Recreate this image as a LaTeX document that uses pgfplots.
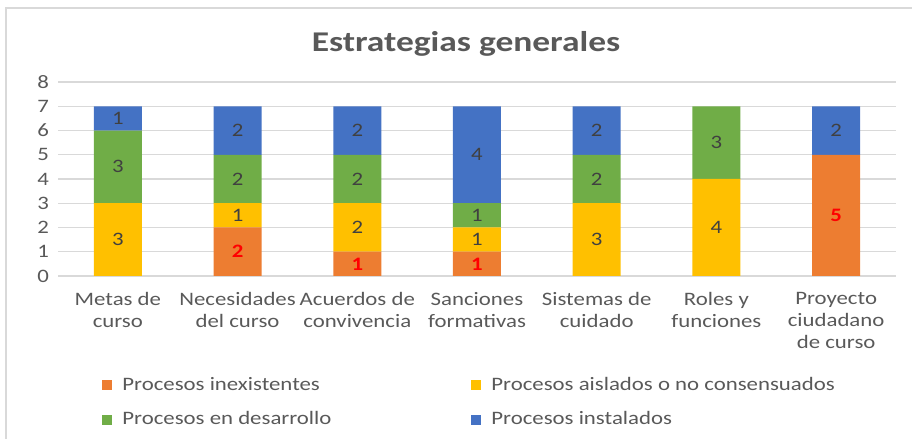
\documentclass[border=0pt]{standalone}
\usepackage{pgfplots}
\pgfplotsset{compat=1.18}
\usepackage{fontspec}
\setmainfont[FakeStretch=1.2]{Carlito}
\newfontfamily\titlefont[FakeStretch=1.24]{Carlito}
\definecolor{cInex}{HTML}{ED7D31}
\definecolor{cAis}{HTML}{FFC000}
\definecolor{cDes}{HTML}{70AD47}
\definecolor{cIns}{HTML}{4472C4}
\definecolor{gridc}{HTML}{D9D9D9}
\definecolor{textc}{HTML}{595959}
\definecolor{labc}{HTML}{404040}
\begin{document}
\begin{tikzpicture}
\useasboundingbox (0,0) rectangle (456pt,219.5pt);
\draw[color=gridc, line width=0.9pt] (3pt,-5pt) rectangle (470pt,215.5pt);
\node[font=\titlefont\fontsize{14.3}{16}\selectfont\bfseries, text=textc] at (233pt,197.5pt) {Estrategias generales};
\begin{axis}[
  at={(29pt,81.5pt)}, anchor=south west,
  scale only axis, width=419pt, height=97pt,
  ybar stacked, bar width=24pt,
  xmin=-0.5, xmax=6.5, ymin=0, ymax=8,
  ytick={0,...,8}, xtick={0,...,6},
  xticklabels={{Metas de\\curso},{Necesidades\\del curso},{Acuerdos de\\convivencia},{Sanciones\\formativas},{Sistemas de\\cuidado},{Roles y\\funciones},{Proyecto\\ciudadano\\de curso}},
  /pgf/number format/assume math mode=true,
  tick label style={font=\fontsize{9.5}{11}\selectfont, text=textc},
  xticklabel style={align=center, yshift=-4.5pt},
  yticklabel style={xshift=-1pt},
  ymajorgrids, grid style={gridc, line width=0.7pt},
  axis line style={draw=none}, major tick length=0pt,
  legend image code/.code={\fill[#1] (0pt,-2.5pt) rectangle (5pt,2.5pt);},
  legend columns=2, legend cell align=left,
  legend style={at={(axis description cs:0.0525,-0.52)}, anchor=north west, draw=none, fill=none,
    inner sep=0pt, row sep=9pt, font=\fontsize{9.5}{11}\selectfont, text=textc,
    nodes={inner sep=0pt},
    /tikz/every odd column/.append style={column sep=5pt}},
]
\addplot[fill=cInex, draw=none] coordinates {(0,0) (1,2) (2,1) (3,1) (4,0) (5,0) (6,5)};
\addlegendentry{\makebox[174.5pt][l]{Procesos inexistentes}}
\addplot[fill=cAis, draw=none] coordinates {(0,3) (1,1) (2,2) (3,1) (4,3) (5,4) (6,0)};
\addlegendentry{Procesos aislados o no consensuados}
\addplot[fill=cDes, draw=none] coordinates {(0,3) (1,2) (2,2) (3,1) (4,2) (5,3) (6,0)};
\addlegendentry{\makebox[174.5pt][l]{Procesos en desarrollo}}
\addplot[fill=cIns, draw=none] coordinates {(0,1) (1,2) (2,2) (3,4) (4,2) (5,0) (6,2)};
\addlegendentry{Procesos instalados}
\end{axis}
\begin{axis}[
  at={(29pt,81.5pt)}, anchor=south west,
  scale only axis, width=419pt, height=97pt,
  xmin=-0.5, xmax=6.5, ymin=0, ymax=8, hide axis,
]
\addplot[draw=none, mark=none, nodes near coords, point meta=explicit symbolic,
  every node near coord/.append style={anchor=center, font=\fontsize{9.5}{11}\selectfont, text=labc}]
  table[meta=lab] {
x y lab
0 1.5 3
0 4.5 3
0 6.5 1
1 2.5 1
1 4 2
1 6 2
2 2 2
2 4 2
2 6 2
3 1.5 1
3 2.5 1
3 5 4
4 1.5 3
4 4 2
4 6 2
5 2 4
5 5.5 3
6 6 2
};
\addplot[draw=none, mark=none, nodes near coords, point meta=explicit symbolic,
  every node near coord/.append style={anchor=center, font=\fontsize{9.5}{11}\selectfont\bfseries, text=red}]
  table[meta=lab] {
x y lab
1 1 2
2 0.5 1
3 0.5 1
6 2.5 5
};
\end{axis}
\end{tikzpicture}
\end{document}
